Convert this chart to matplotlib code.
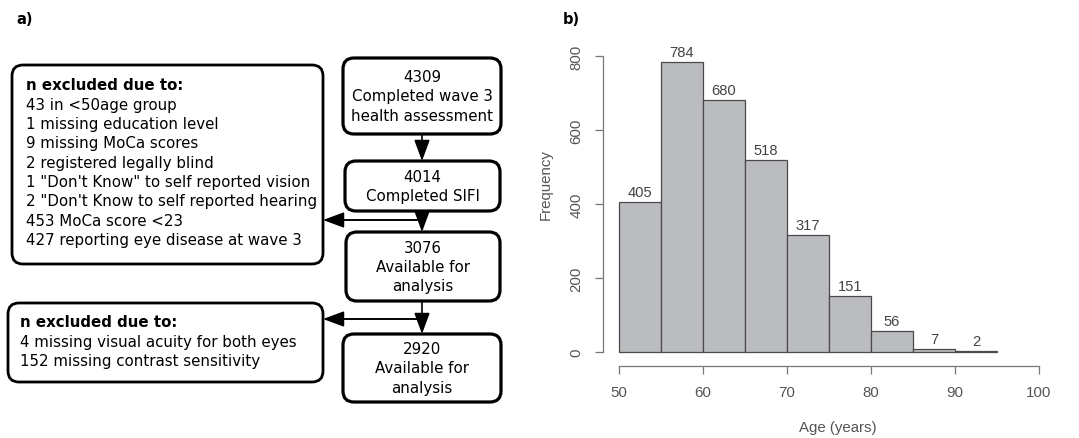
import numpy as np
import matplotlib
matplotlib.use('Agg')
import matplotlib.pyplot as plt
from matplotlib.patches import FancyBboxPatch

# histogram data
age_edges = [50, 55, 60, 65, 70, 75, 80, 85, 90, 95]
age_counts = [405, 784, 680, 518, 317, 151, 56, 7, 2]
x_ticks = [50, 60, 70, 80, 90, 100]
y_ticks = [0, 200, 400, 600, 800]

# flowchart texts
main_boxes = [
    ['4309', 'Completed wave 3', 'health assessment'],
    ['4014', 'Completed SIFI'],
    ['3076', 'Available for', 'analysis'],
    ['2920', 'Available for', 'analysis'],
]
excl1 = ['43 in <50age group',
         '1 missing education level',
         '9 missing MoCa scores',
         '2 registered legally blind',
         '1 "Don\'t Know" to self reported vision',
         '2 "Don\'t Know to self reported hearing',
         '453 MoCa score <23',
         '427 reporting eye disease at wave 3']
excl2 = ['4 missing visual acuity for both eyes',
         '152 missing contrast sensitivity']
excl_title = 'n excluded due to:'

W, H = 1079, 439
fig = plt.figure(figsize=(W / 100, H / 100), dpi=100)

# ---- a) flowchart in pixel coords
fl = fig.add_axes([0, 0, 1, 1])
fl.set_xlim(0, W)
fl.set_ylim(H, 0)
fl.axis('off')

fs = 10.8
lh = 19.4

def box(x0, y0, x1, y1, lw):
    p = FancyBboxPatch((x0, y0), x1 - x0, y1 - y0,
                       boxstyle='round,pad=0,rounding_size=11',
                       fc='white', ec='black', lw=lw, zorder=2)
    fl.add_patch(p)

def arrow(x0, y0, x1, y1):
    fl.annotate('', xy=(x1, y1), xytext=(x0, y0),
                arrowprops=dict(arrowstyle='-|>,head_length=1.08,head_width=0.4',
                                color='black', lw=1.2, shrinkA=0, shrinkB=0,
                                mutation_scale=12), zorder=3)

fl.text(16, 20, 'a)', fontsize=10.5, fontweight='bold', va='center', ha='left')

# main boxes
main_pos = [(343, 59, 501, 135), (345, 162, 500, 212),
            (346, 233, 500, 302), (343, 335, 501, 403)]
for lines, (x0, y0, x1, y1) in zip(main_boxes, main_pos):
    box(x0, y0, x1, y1, 2.3)
    cy = (y0 + y1) / 2
    n = len(lines)
    for i, t in enumerate(lines):
        fl.text((x0 + x1) / 2, cy + (i - (n - 1) / 2) * lh, t,
                fontsize=fs, ha='center', va='center', zorder=4)

# exclusion boxes
box(12, 66, 323, 265, 2.0)
fl.text(26, 86, excl_title, fontsize=fs, fontweight='bold', va='center', zorder=4)
for i, t in enumerate(excl1):
    fl.text(26, 86 + (i + 1) * lh * 0.995, t, fontsize=fs, va='center', zorder=4)

box(8, 304, 323, 383, 2.0)
fl.text(20, 323, excl_title, fontsize=fs, fontweight='bold', va='center', zorder=4)
for i, t in enumerate(excl2):
    fl.text(20, 323 + (i + 1) * lh, t, fontsize=fs, va='center', zorder=4)

# arrows
cx = 422
arrow(cx, 135, cx, 162)
arrow(cx, 212, cx, 233)
arrow(cx, 302, cx, 335)
fl.plot([cx, 340], [221, 221], color='black', lw=1.2, zorder=1)
arrow(cx, 221, 323, 221)
fl.plot([cx, 340], [320, 320], color='black', lw=1.2, zorder=1)
arrow(cx, 320, 323, 320)

# ---- b) histogram
gray = '#555555'
hfont = 'Liberation Sans'
ax = fig.add_axes([603 / W, 72 / H, 452.8 / W, 321.1 / H])
ax.set_xlim(48.1, 102)
ax.set_ylim(-37.8, 830)
widths = np.diff(age_edges)
ax.bar(age_edges[:-1], age_counts, width=widths, align='edge',
       color='#bbbcbf', edgecolor='#4a4a4a', lw=0.9)
for x, w, c in zip(age_edges[:-1], widths, age_counts):
    ax.text(x + w / 2, c + 27, str(c), ha='center', va='center',
            fontsize=10.6, color='#444444', family=hfont)

for s in ['top', 'right']:
    ax.spines[s].set_visible(False)
ax.spines['left'].set_bounds(0, 800)
ax.spines['bottom'].set_bounds(50, 100)
for s in ['left', 'bottom']:
    ax.spines[s].set_color('#777777')
    ax.spines[s].set_linewidth(0.9)
ax.set_xticks(x_ticks)
ax.set_yticks(y_ticks)
ax.set_yticklabels([str(v) for v in y_ticks], rotation=90, va='center')
ax.tick_params(axis='both', colors='#777777', length=6, width=0.9,
               labelcolor=gray, labelsize=10.8, pad=8)
for lab in ax.get_xticklabels() + ax.get_yticklabels():
    lab.set_family(hfont)
ax.set_xlabel('Age (years)', fontsize=10.8, color=gray, family=hfont)
ax.set_ylabel('Frequency', fontsize=10.8, color=gray, family=hfont)
ax.xaxis.set_label_coords(0.519, -0.168)
ax.yaxis.set_label_coords(-0.112, 0.567)

fl.text(563, 19, 'b)', fontsize=10.5, fontweight='bold', va='center', ha='left')

fig.savefig('out.png', dpi=100)
